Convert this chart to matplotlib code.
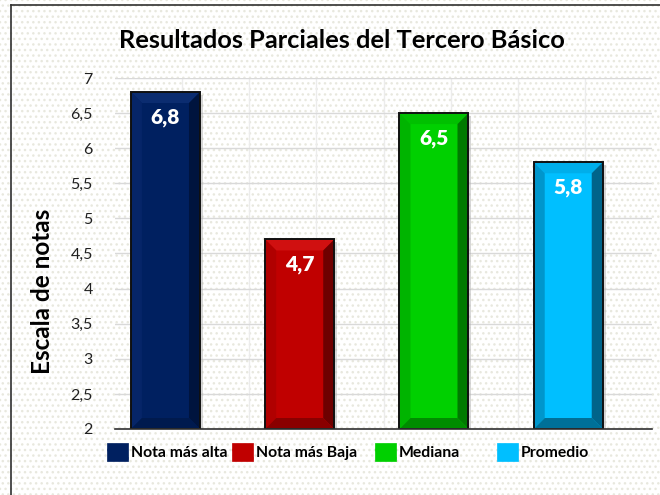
import matplotlib
matplotlib.use("Agg")
import matplotlib.pyplot as plt
from matplotlib.patches import Polygon, Rectangle, Patch
from matplotlib.lines import Line2D

plt.rcParams['font.family'] = ['Lato', 'DejaVu Sans']

categories = ["Nota más alta", "Nota más Baja", "Mediana", "Promedio"]
values = [6.8, 4.7, 6.5, 5.8]
labels = ["6,8", "4,7", "6,5", "5,8"]
yticks = [2, 2.5, 3, 3.5, 4, 4.5, 5, 5.5, 6, 6.5, 7]
yticklabels = ["2", "2,5", "3", "3,5", "4", "4,5", "5", "5,5", "6", "6,5", "7"]
title = "Resultados Parciales del Tercero Básico"
ylabel = "Escala de notas"

# colours: front, top bevel, left bevel, right bevel, bottom bevel
colors = [
    ("#002060", "#0B2C70", "#062568", "#00143E", "#001A4E"),
    ("#C00000", "#D01010", "#B00000", "#6E0000", "#8A0000"),
    ("#00D000", "#00C000", "#00B400", "#007A00", "#008C00"),
    ("#00BFFF", "#00AEEA", "#0096CC", "#00648A", "#007098"),
]

W, H = 660, 495
fig = plt.figure(figsize=(6.6, 4.95), dpi=100)

# dotted background
bg = Rectangle((0, 0), 1, 1, transform=fig.transFigure, facecolor="white",
               edgecolor="#E8E8DE", hatch="...", lw=0, zorder=-10)
fig.patches.append(bg)
fig.add_artist(Line2D([11 / W, 11 / W], [0, 1 - 5 / H], transform=fig.transFigure,
                      color="#303030", lw=1.2))
fig.add_artist(Line2D([11 / W, 1], [1 - 5 / H, 1 - 5 / H], transform=fig.transFigure,
                      color="#303030", lw=1.2))

left, right, top, bottom = 115, 652, 78, 429
ax = fig.add_axes([left / W, 1 - bottom / H, (right - left) / W, (bottom - top) / H])
ax.set_facecolor("none")
xmin, xmax = -0.376, 3.624
ax.set_xlim(xmin, xmax)
ax.set_ylim(2, 7)

for s in ["left", "right", "top"]:
    ax.spines[s].set_visible(False)
ax.spines["bottom"].set_color("#303030")
ax.spines["bottom"].set_linewidth(1.2)
ax.spines["bottom"].set_zorder(5)

ax.set_yticks(yticks)
ax.set_yticklabels(yticklabels, fontsize=11.5, color="#202020")
ax.tick_params(axis="y", length=0, pad=16)
ax.set_xticks([])
ax.yaxis.grid(True, color="#D9D9D9", lw=1.0)
for k in range(1, 8):
    ax.axvline(xmin + 0.5 * k, color="#ECECEC", lw=1.0, zorder=0)
ax.set_axisbelow(True)

# bar geometry
bw = 0.514
px_x = (xmax - xmin) / (right - left)
px_y = 5.0 / (bottom - top)
dx = 11 * px_x
dy = 11 * px_y

for i, (v, c) in enumerate(zip(values, colors)):
    front, topc, leftc, rightc, botc = c
    L, R, B, T = i - bw / 2, i + bw / 2, 2, v
    # shadow
    ax.add_patch(Rectangle((L + 3 * px_x, B), bw, T - B - 3 * px_y,
                           facecolor="#B0B0B0", alpha=0.5, lw=0, zorder=1))
    ax.add_patch(Rectangle((L, B), bw, T - B, facecolor=front, lw=0, zorder=2))
    ax.add_patch(Polygon([(L, T), (R, T), (R - dx, T - dy), (L + dx, T - dy)],
                         facecolor=topc, lw=0, zorder=3))
    ax.add_patch(Polygon([(L, T), (L + dx, T - dy), (L + dx, B + dy), (L, B)],
                         facecolor=leftc, lw=0, zorder=3))
    ax.add_patch(Polygon([(R, T), (R, B), (R - dx, B + dy), (R - dx, T - dy)],
                         facecolor=rightc, lw=0, zorder=3))
    ax.add_patch(Polygon([(L, B), (R, B), (R - dx, B + dy), (L + dx, B + dy)],
                         facecolor=botc, lw=0, zorder=3))
    ax.add_patch(Rectangle((L, B), bw, T - B, facecolor="none", edgecolor="#101010",
                           lw=1.4, zorder=4))
    ax.text(i, T - 25 * px_y, labels[i], ha="center", va="center", color="white",
            fontsize=15, fontweight="heavy", zorder=6)

fig.text(0.518, 1 - 40 / H, title, ha="center", va="center", fontsize=18.3,
         fontweight="bold", color="#000000")
fig.text(43 / W, 1 - 291 / H, ylabel, ha="center", va="center", rotation=90,
         fontsize=17.5, fontweight="bold", color="#000000")

# legend entries
leg_x = [108, 233, 376, 498]
for i, (name, c) in enumerate(zip(categories, colors)):
    h = Patch(facecolor=c[0], edgecolor=c[0], hatch="..", lw=0.5)
    lg = fig.legend([h], [name], loc="center left",
                    bbox_to_anchor=((leg_x[i] - 4) / W, 1 - 452 / H),
                    frameon=False, fontsize=11.3, handlelength=1.35, handleheight=1.35,
                    handletextpad=0.15, borderaxespad=0, borderpad=0.2)
    for t in lg.get_texts():
        t.set_fontweight("bold")
    lg.legend_handles[0].set_edgecolor(c[0])
    lg.legend_handles[0].set_hatch("..")
    lg.legend_handles[0].set_linewidth(0.5)

fig.savefig("out.png", dpi=100)
